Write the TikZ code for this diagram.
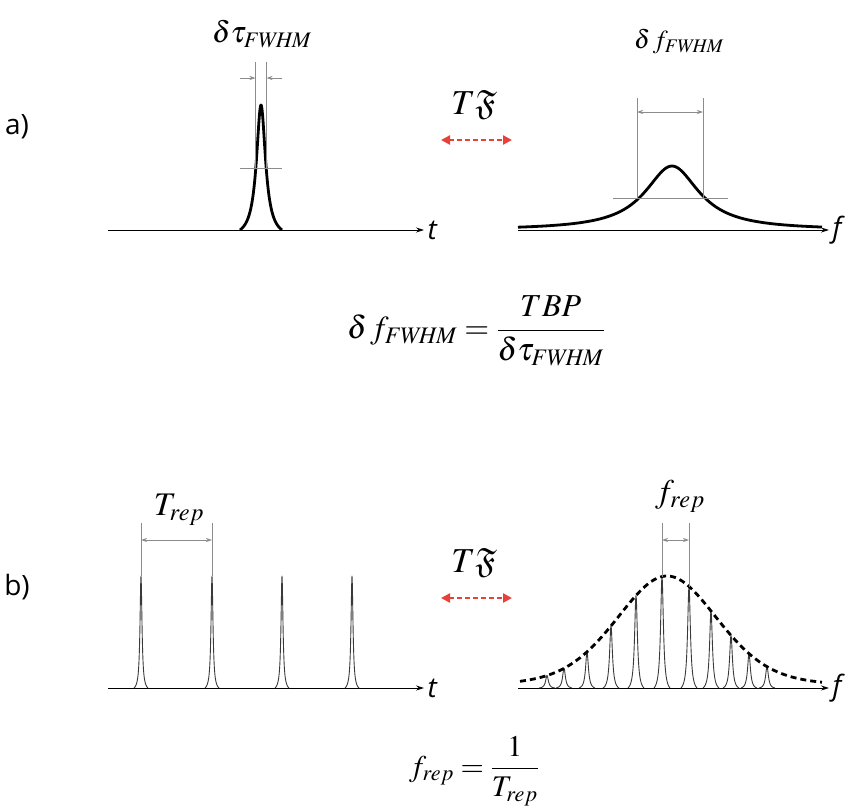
\documentclass[tikz,border=0pt]{standalone}
\usepackage{amssymb}
\usepackage{mathptmx}
\usepackage[no-math]{fontspec}
\setsansfont{Open Sans}
\definecolor{tfred}{HTML}{E8403A}
\definecolor{dimgray}{HTML}{8C8C8C}
\definecolor{toothgray}{HTML}{3A3A3A}
\usetikzlibrary{arrows.meta}
\newcommand{\fw}{\mathit{FWHM}}

\begin{document}
\begin{tikzpicture}[x=1pt, y=-1pt,
  declare function={lor(\u,\g)=1/(1+(\u/\g)^2);
    env(\u)=112*(0.7*exp(0-((\u-667)/72)^2)+0.3*lor(\u-667,65));},
  axis/.style={-{Stealth[length=8pt,width=5pt]}, line width=0.8pt},
  pulse/.style={line width=2.8pt, line join=round},
  tooth/.style={toothgray, line width=0.9pt, line join=round},
  dim/.style={dimgray, line width=0.8pt},
  dimtip/.style={dim, -{Stealth[length=6pt,width=4pt]}},
  dimboth/.style={dim, {Stealth[length=6pt,width=4pt]}-{Stealth[length=6pt,width=4pt]}},
  tf/.style={tfred, line width=2.4pt, dash pattern=on 5pt off 3pt,
             {Triangle[length=9pt,width=9pt]}-{Triangle[length=9pt,width=9pt]}},
  eq/.style={font=\fontsize{32}{38}\selectfont},
  axlabel/.style={font=\sffamily\itshape\fontsize{28}{30}\selectfont, anchor=west},
  panel/.style={font=\sffamily\fontsize{28}{32}\selectfont},
]
\useasboundingbox (0,0) rectangle (857,811);

% a) single pulse and its spectrum
\node[panel] (pa) at (17,127) {a)};
\draw[axis] (108,230) -- (424,230) node[axlabel] (ta) {t};
\draw[pulse] plot[domain=-21:21, samples=121]
  ({261+\x}, {230-125*(lor(\x,5.5)-lor(21,5.5))/(1-lor(21,5.5))});
\draw[dim] (255.5,62) -- (255.5,168) (266.5,62) -- (266.5,168);
\draw[dim] (240,168) -- (282,168);
\draw[dimtip] (240,78) -- (255.5,78);
\draw[dimtip] (282,78) -- (266.5,78);
\node[eq, font=\fontsize{30}{34}\selectfont] (dtau) at (262,34) {$\delta\tau_{\fw}$};

\node[eq, font=\fontsize{35}{40}\selectfont] (tfa) at (474,105) {$T\mathfrak{F}$};
\draw[tf] (441,140) -- (512,140);

\draw[axis] (518,230) -- (829,230) node[axlabel] (fa) {f};
\draw[pulse] plot[domain=518:822, samples=151] (\x, {230-64*lor(\x-672,33)});
\draw[dim] (637,98) -- (637,198) (703,98) -- (703,198);
\draw[dim] (613,198) -- (728,198);
\draw[dimboth] (637,112) -- (703,112);
\node[eq, font=\fontsize{26}{30}\selectfont] (dfa) at (679,42) {$\delta\, f_{\fw}$};

\node[eq] (tbp) at (476,331) {$\delta\, f_{\fw} = \displaystyle\frac{TBP}{\delta\tau_{\fw}}$};

% b) pulse train and frequency comb
\node[panel] (pb) at (17,587) {b)};
\draw[axis] (108,688) -- (424,688) node[axlabel] (tb) {t};
\foreach \p in {141,212,282,352} {
  \draw[tooth] plot[domain=-7:7, samples=61]
    ({\p+\x}, {688-112*(lor(\x,1.2)-lor(7,1.2))/(1-lor(7,1.2))});
}
\draw[dim] (141,523) -- (141,576) (212,523) -- (212,576);
\draw[dimboth] (141,540) -- (212,540);
\node[eq, font=\fontsize{33}{38}\selectfont] (trep) at (179,510) {$T_{rep}$};

\node[eq, font=\fontsize{35}{40}\selectfont] (tfb) at (474,563) {$T\mathfrak{F}$};
\draw[tf] (441,598) -- (512,598);

\draw[axis] (518,688) -- (829,688) node[axlabel] (fb) {f};
\foreach \p in {547,564,587,611,636,662,689,711,731,749,767} {
  \pgfmathsetmacro{\h}{env(\p)}
  \draw[tooth] plot[domain=-8:8, samples=61]
    ({\p+\x}, {688-\h*(lor(\x,1.7)-lor(8,1.7))/(1-lor(8,1.7))});
}
\draw[line width=2.8pt, dash pattern=on 6pt off 4pt]
  plot[domain=520:822, samples=151] (\x, {688-env(\x)});
\draw[dim] (662,523) -- (662,577) (689,523) -- (689,587);
\draw[dimboth] (662,540) -- (689,540);
\node[eq, font=\fontsize{33}{38}\selectfont] (frep) at (680,496) {$f_{rep}$};

\node[eq, font=\fontsize{30}{36}\selectfont] (reprel) at (474,771) {$f_{rep} = \displaystyle\frac{1}{T_{rep}}$};
\end{tikzpicture}
\end{document}
